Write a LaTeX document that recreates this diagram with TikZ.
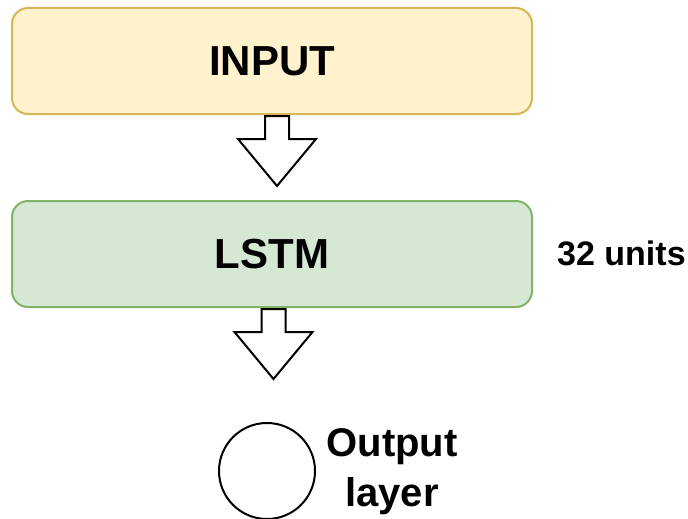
\documentclass[tikz,border=0pt]{standalone}
\usepackage{fontspec}
\setmainfont{Liberation Sans}
\usetikzlibrary{calc}
\definecolor{inputfill}{HTML}{FFF2CC}
\definecolor{inputline}{HTML}{D6B656}
\definecolor{lstmfill}{HTML}{D5E8D4}
\definecolor{lstmline}{HTML}{82B366}

\begin{document}
\begin{tikzpicture}[x=1pt,y=-1pt]
    \tikzstyle{layer} = [draw,rectangle,rounded corners=16pt,line width=2pt,minimum width=520pt,minimum height=106pt,inner sep=0pt,font=\fontsize{42}{50}\selectfont\bfseries]
    \tikzstyle{neuron} = [draw,circle,line width=2pt,minimum size=96pt,inner sep=0pt]
    \tikzstyle{note} = [inner sep=0pt,font=\fontsize{34}{40}\selectfont\bfseries]
    \tikzstyle{blockarrow} = [draw,line width=2pt,fill=white,line join=miter]
    \useasboundingbox (0,0) rectangle (688,519);
      \node[layer,fill=inputfill,draw=inputline] (input) at (272,61) {INPUT};
      \node[layer,fill=lstmfill,draw=lstmline] (lstm) at (272,254) {LSTM};
      \node[note,anchor=base west] (units) at (557,265) {32 units};
      \node[neuron] (output) at (267,471) {};
      \node[note,align=center,anchor=north,font=\fontsize{40}{50}\selectfont\bfseries] (outname) at (392,428) {Output\\layer};
      \foreach \from/\dx in {input/5,lstm/1.5} \draw[blockarrow] ($(\from.south)+(\dx-12,1)$) -- ++(0,23) -- ++(-27,0) -- ++(39,47) -- ++(39,-47) -- ++(-27,0) -- ++(0,-23) -- cycle;
  \end{tikzpicture}
\end{document}
